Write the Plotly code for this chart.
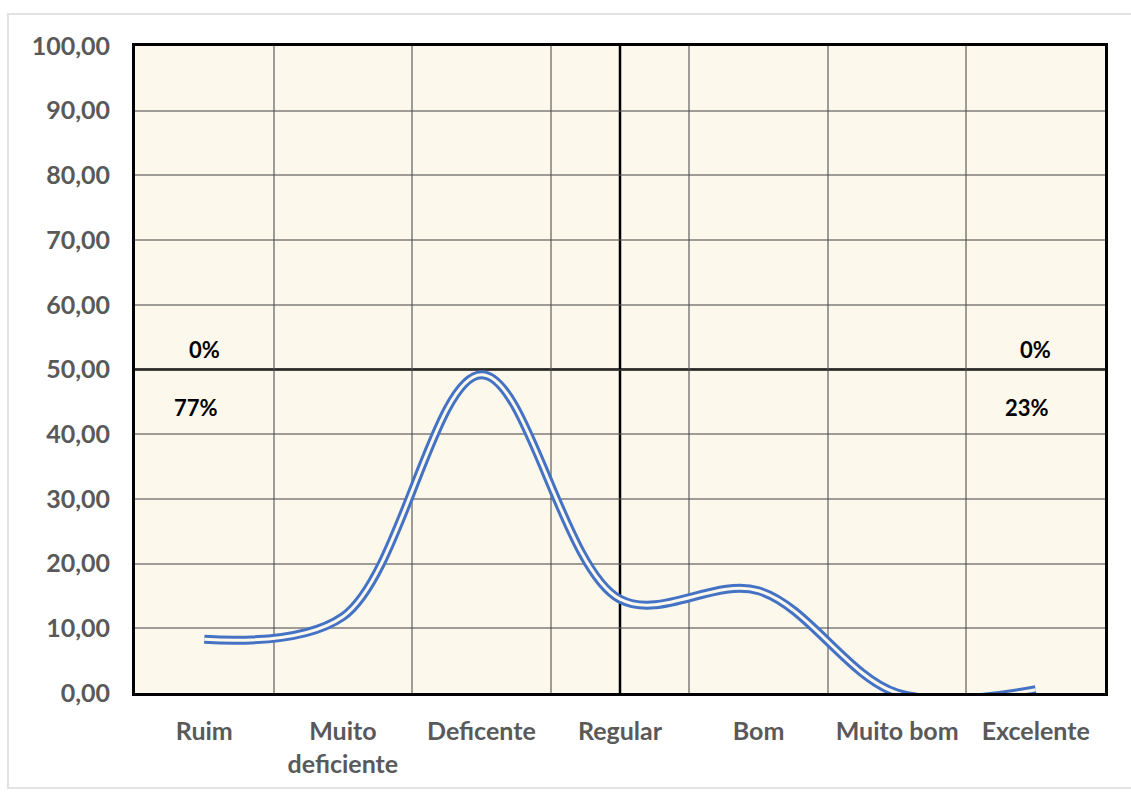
import plotly.graph_objects as go

# Category labels along the horizontal axis
categories = ["Ruim", "Muito<br>deficiente", "Deficente", "Regular", "Bom", "Muito bom", "Excelente"]
# Series values per category
values = [8.3, 11.8, 49.2, 14.5, 15.8, 0.0, 0.5]
# Y axis ticks
y_ticks = [0, 10, 20, 30, 40, 50, 60, 70, 80, 90, 100]
y_tick_labels = ["0,00", "10,00", "20,00", "30,00", "40,00", "50,00",
                 "60,00", "70,00", "80,00", "90,00", "100,00"]
# Quadrant percentages (upper-left, lower-left, upper-right, lower-right)
quad_labels = ["0%", "77%", "0%", "23%"]

x_pos = [i + 0.5 for i in range(len(categories))]
n = len(categories)

W, H = 1131, 794
L, R, T, B = 135, 26, 46, 101

fig = go.Figure()

# double line: thick blue stroke with a thin light stroke on top
fig.add_trace(go.Scatter(
    x=x_pos, y=values, mode="lines", cliponaxis=False,
    line=dict(color="#4472C4", width=9, shape="spline", smoothing=1.0),
    hoverinfo="skip", showlegend=False,
))
fig.add_trace(go.Scatter(
    x=x_pos, y=values, mode="lines", cliponaxis=False,
    line=dict(color="#FDF8EC", width=3, shape="spline", smoothing=1.0),
    hoverinfo="skip", showlegend=False,
))

tick_font = dict(family="Lato, 'Open Sans', sans-serif", size=25, color="#595959", weight="bold")
grid_col = "rgba(80,80,80,0.55)"

fig.update_xaxes(
    range=[0, n], tickmode="array", tickvals=x_pos, ticktext=categories,
    showgrid=False, zeroline=False, ticks="", automargin=False,
    tickfont=tick_font, ticklabelstandoff=14, layer="below traces",
    minor=dict(tickmode="array", tickvals=list(range(1, n)), showgrid=True,
               gridcolor=grid_col, gridwidth=1.5, ticks=""),
    showline=True, linecolor="black", linewidth=3, mirror=True,
)
fig.update_yaxes(
    range=[0, 100], tickmode="array", tickvals=y_ticks, ticktext=y_tick_labels,
    showgrid=True, gridcolor=grid_col, gridwidth=1.5, automargin=False,
    zeroline=False, ticks="", tickfont=tick_font, ticklabelstandoff=17,
    layer="below traces",
    showline=True, linecolor="black", linewidth=3, mirror=True,
)

shapes = [
    # quadrant dividers
    dict(type="line", xref="x", yref="y", x0=x_pos[3], x1=x_pos[3], y0=0, y1=100,
         line=dict(color="black", width=2.5), layer="below"),
    dict(type="line", xref="x", yref="y", x0=0, x1=n, y0=50, y1=50,
         line=dict(color="black", width=2.5), layer="below"),
    # outer chart frame
    dict(type="rect", xref="paper", yref="paper",
         x0=(8 - L) / (W - L - R), x1=(1140 - L) / (W - L - R),
         y0=(H - B - 788) / (H - T - B), y1=(H - B - 14) / (H - T - B),
         line=dict(color="#E3E3E3", width=2), fillcolor="rgba(0,0,0,0)", layer="below"),
]

ann_font = dict(family="Lato, 'Open Sans', sans-serif", size=22, color="black", weight="bold")
annotations = [
    dict(x=x_pos[0], y=53.1, text=quad_labels[0], showarrow=False, font=ann_font),
    dict(x=x_pos[0] - 0.06, y=44.2, text=quad_labels[1], showarrow=False, font=ann_font),
    dict(x=x_pos[6], y=53.1, text=quad_labels[2], showarrow=False, font=ann_font),
    dict(x=x_pos[6] - 0.06, y=44.2, text=quad_labels[3], showarrow=False, font=ann_font),
]

fig.update_layout(
    width=W, height=H,
    margin=dict(l=L, r=R, t=T, b=B),
    paper_bgcolor="white", plot_bgcolor="#FDF8EC",
    font=dict(family="Lato, 'Open Sans', sans-serif"),
    shapes=shapes, annotations=annotations,
    showlegend=False,
)

fig.write_html("out.html")
